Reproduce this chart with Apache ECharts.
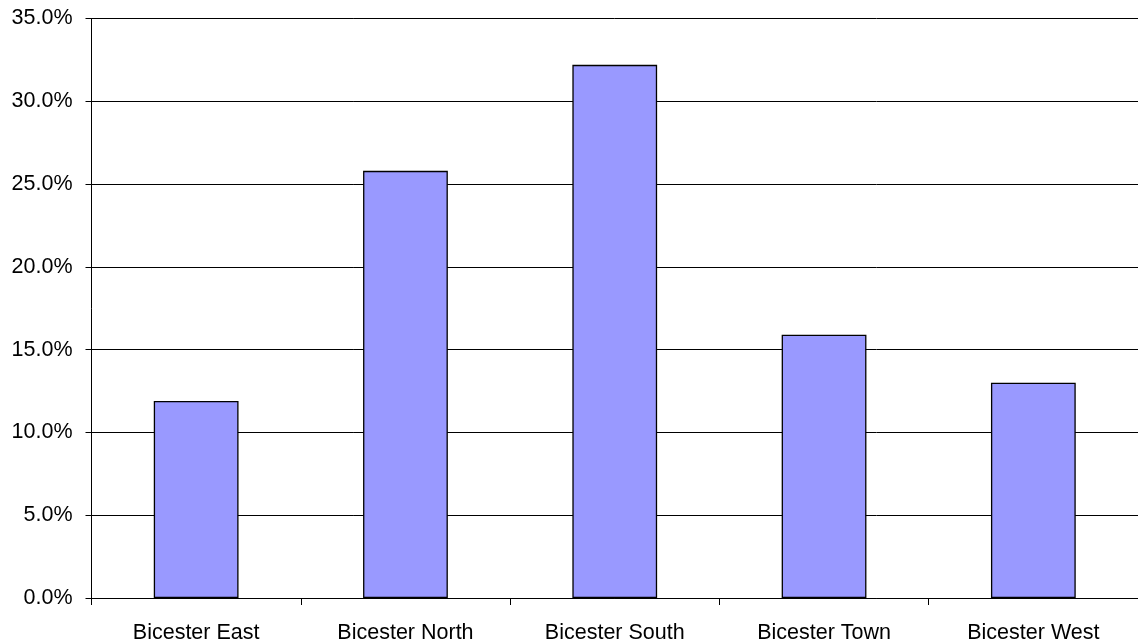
<!DOCTYPE html>
<html>
<head>
<meta charset="utf-8">
<script src="https://cdn.jsdelivr.net/npm/echarts@6/dist/echarts.min.js"></script>
<style>
  html, body { margin: 0; padding: 0; background: #fff; }
  #chart { width: 1138px; height: 644px; }
</style>
</head>
<body>
<div id="chart"></div>
<script>
// Share of total by area (percent)
const categories = ['Bicester East', 'Bicester North', 'Bicester South', 'Bicester Town', 'Bicester West'];
const shares = [11.9, 25.8, 32.2, 15.9, 13.0];
const yTicks = { min: 0, max: 35, interval: 5 };

const chart = echarts.init(document.getElementById('chart'), null, { renderer: 'canvas' });

const fontFamily = '"Liberation Sans", Arial, sans-serif';

chart.setOption({
  animation: false,
  backgroundColor: '#ffffff',
  grid: { left: 91.5, top: 18.5, width: 1050.5, height: 581, containLabel: false },
  xAxis: {
    type: 'category',
    data: categories,
    boundaryGap: true,
    axisLine: { show: true, lineStyle: { color: '#000', width: 1 } },
    axisTick: { show: true, length: 7, inside: false, alignWithLabel: false, lineStyle: { color: '#000' } },
    axisLabel: { color: '#000', fontSize: 21.5, fontFamily: fontFamily, margin: 24, interval: 0 },
    splitLine: { show: false }
  },
  yAxis: {
    type: 'value',
    min: yTicks.min,
    max: yTicks.max,
    interval: yTicks.interval,
    axisLine: { show: true, lineStyle: { color: '#000', width: 1 } },
    axisTick: { show: true, length: 6, lineStyle: { color: '#000' } },
    axisLabel: {
      color: '#000', fontSize: 21.5, fontFamily: fontFamily, margin: 19,
      formatter: v => v.toFixed(1) + '%'
    },
    splitLine: { show: true, lineStyle: { color: '#000', width: 1 } }
  },
  series: [{
    type: 'bar',
    data: shares,
    barWidth: '40.5%',
    itemStyle: { color: '#9999FF', borderColor: '#000', borderWidth: 1.3 }
  }]
});
</script>
</body>
</html>
